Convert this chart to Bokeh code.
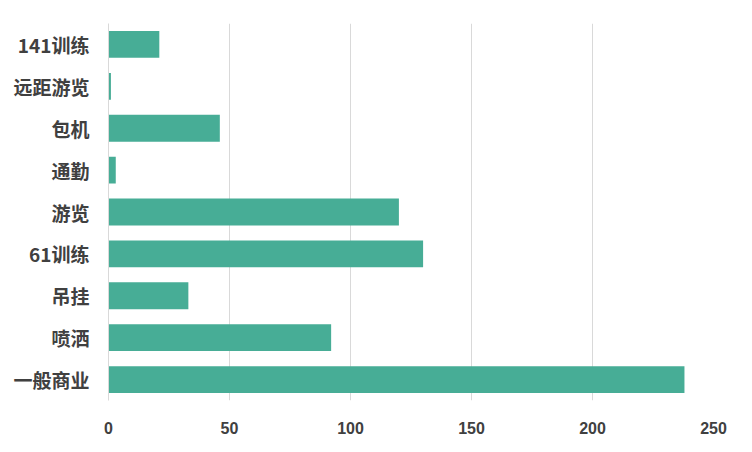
from bokeh.plotting import figure
from bokeh.models import FactorRange, Range1d, FixedTicker
from bokeh.embed import file_html
from bokeh.resources import INLINE

categories = ["141训练", "远距游览", "包机", "通勤", "游览", "61训练", "吊挂", "喷洒", "一般商业"]
values = [21, 1, 46, 3, 120, 130, 33, 92, 238]
x_ticks = [0, 50, 100, 150, 200, 250]

factors = list(reversed(categories))
vals = list(reversed(values))

p = figure(width=736, height=436, output_backend="svg", toolbar_location=None,
           y_range=FactorRange(factors=factors), x_range=Range1d(0, 250),
           min_border_left=108, min_border_right=23, min_border_top=23, min_border_bottom=34)

p.hbar(y=factors, right=vals, left=0, height=0.64, color="#47AD96", line_color=None)

p.outline_line_color = None
p.background_fill_color = "white"
p.border_fill_color = "white"

p.xaxis.ticker = FixedTicker(ticks=x_ticks)
p.xaxis.axis_line_color = None
p.xaxis.major_tick_line_color = None
p.xaxis.minor_tick_line_color = None
p.xaxis.major_label_standoff = 15
p.xaxis.major_label_text_font = "Liberation Sans"
p.xaxis.major_label_text_font_style = "bold"
p.xaxis.major_label_text_font_size = "16px"
p.xaxis.major_label_text_color = "#404040"

p.yaxis.axis_line_color = "#d9d9d9"
p.yaxis.major_tick_line_color = None
p.yaxis.minor_tick_line_color = None
p.yaxis.major_label_standoff = 13
p.yaxis.major_label_text_font = "Noto Sans CJK SC"
p.yaxis.major_label_text_font_style = "bold"
p.yaxis.major_label_text_font_size = "19px"
p.yaxis.major_label_text_color = "#404040"

p.xgrid.grid_line_color = "#d9d9d9"
p.ygrid.grid_line_color = None

open("out.html", "w").write(file_html(p, INLINE))
